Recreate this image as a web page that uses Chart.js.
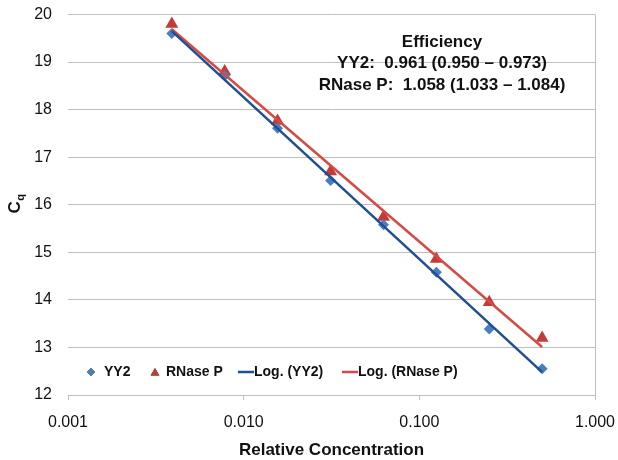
<!DOCTYPE html>
<html>
<head>
<meta charset="utf-8">
<script src="https://cdn.jsdelivr.net/npm/chart.js@4.4.1/dist/chart.umd.min.js"></script>
<style>
html,body{margin:0;padding:0;background:#fff;}
#wrap{width:618px;height:460px;}
</style>
</head>
<body>
<div id="wrap"><canvas id="c" width="618" height="460"></canvas></div>
<script>
// ---- data ----
const concentrations = [0.0039, 0.0078, 0.0156, 0.03125, 0.0625, 0.125, 0.25, 0.5];
const yy2Cq   = [19.60, 18.71, 17.61, 16.51, 15.58, 14.58, 13.39, 12.55];
const rnasePCq = [19.80, 18.80, 17.76, 16.70, 15.74, 14.86, 13.95, 13.20];
// trendline end points (log fits, as drawn)
const fitX = [0.0039, 0.5];
const yy2Fit = [19.65, 12.48];
const rnasePFit = [19.69, 13.01];
const xTickValues = [0.001, 0.01, 0.1, 1];
const xTickLabels = ['0.001', '0.010', '0.100', '1.000'];
const annotationLines = ['Efficiency', 'YY2:  0.961 (0.950 \u2013 0.973)', 'RNase P:  1.058 (1.033 \u2013 1.084)'];
const seriesNames = ['YY2', 'RNase P', 'Log. (YY2)', 'Log. (RNase P)'];

const FONT = "'Liberation Sans', Arial, sans-serif";
Chart.defaults.font.family = FONT;
Chart.defaults.color = '#111';

const pts = (xs, ys) => xs.map((x, i) => ({x: x, y: ys[i]}));

const yTitlePlugin = {
  id: 'yTitle',
  afterDraw(chart) {
    const ctx = chart.ctx;
    ctx.save();
    ctx.translate(20, 204);
    ctx.rotate(-Math.PI / 2);
    ctx.fillStyle = '#111';
    ctx.font = 'bold 17px ' + FONT;
    const wC = ctx.measureText('C').width;
    ctx.font = 'bold 11px ' + FONT;
    const wq = ctx.measureText('q').width;
    const start = -(wC + wq) / 2;
    ctx.textBaseline = 'alphabetic';
    ctx.textAlign = 'left';
    ctx.font = 'bold 17px ' + FONT;
    ctx.fillText('C', start, 0);
    ctx.font = 'bold 11px ' + FONT;
    ctx.fillText('q', start + wC + 0.5, 4);
    ctx.restore();
  }
};

const annotationPlugin = {
  id: 'effNote',
  afterDraw(chart) {
    const ctx = chart.ctx;
    ctx.save();
    ctx.fillStyle = '#111';
    ctx.font = 'bold 17px ' + FONT;
    ctx.textAlign = 'center';
    ctx.textBaseline = 'middle';
    const ys = [42, 63.5, 85];
    annotationLines.forEach((t, i) => ctx.fillText(t, 442, ys[i]));
    ctx.restore();
  }
};

const borderPlugin = {
  id: 'rightBorder',
  beforeDatasetsDraw(chart) {
    const a = chart.chartArea, ctx = chart.ctx;
    ctx.save();
    ctx.strokeStyle = '#BFBFBF';
    ctx.lineWidth = 1;
    ctx.beginPath();
    ctx.moveTo(Math.round(a.right) + 0.5, a.top);
    ctx.lineTo(Math.round(a.right) + 0.5, a.bottom);
    ctx.stroke();
    ctx.restore();
  }
};

const legendPlugin = {
  id: 'inLegend',
  afterDraw(chart) {
    const ctx = chart.ctx;
    const y = 372;
    const slots = [
      {sx: 91, tx: 104},
      {sx: 155, tx: 166},
      {sx: 238, tx: 254},
      {sx: 342, tx: 358}
    ];
    ctx.save();
    ctx.font = 'bold 14px ' + FONT;
    ctx.textBaseline = 'middle';
    ctx.textAlign = 'left';
    chart.data.datasets.forEach((ds, i) => {
      const s = slots[i];
      if (ds.showLine) {
        ctx.strokeStyle = ds.borderColor;
        ctx.lineWidth = 2.5;
        ctx.beginPath();
        ctx.moveTo(s.sx, y);
        ctx.lineTo(s.sx + 16, y);
        ctx.stroke();
      } else {
        Chart.helpers.drawPoint(ctx, {
          pointStyle: ds.pointStyle,
          radius: ds.pointStyle === 'triangle' ? 5 : 4,
          borderWidth: 0,
          rotation: 0
        }, s.sx, y + (ds.pointStyle === 'triangle' ? 1 : 0));
        ctx.fillStyle = ds.backgroundColor;
        ctx.fill();
      }
      ctx.fillStyle = '#111';
      ctx.fillText(ds.label, s.tx, y);
    });
    ctx.restore();
  }
};

new Chart(document.getElementById('c'), {
  type: 'scatter',
  data: {
    datasets: [
      {
        label: seriesNames[0],
        data: pts(concentrations, yy2Cq),
        pointStyle: 'rectRot',
        pointRadius: 5.5,
        backgroundColor: '#4A7EC2',
        borderColor: '#4A7EC2',
        borderWidth: 0,
        showLine: false,
        order: 3
      },
      {
        label: seriesNames[1],
        data: pts(concentrations, rnasePCq),
        pointStyle: 'triangle',
        pointRadius: 7.5,
        backgroundColor: '#C23B36',
        borderColor: '#C23B36',
        borderWidth: 0,
        showLine: false,
        order: 4
      },
      {
        label: seriesNames[2],
        data: pts(fitX, yy2Fit),
        showLine: true,
        pointRadius: 0,
        borderColor: '#1F4E93',
        backgroundColor: '#1F4E93',
        borderWidth: 2.5,
        order: 1
      },
      {
        label: seriesNames[3],
        data: pts(fitX, rnasePFit),
        showLine: true,
        pointRadius: 0,
        borderColor: '#D44A45',
        backgroundColor: '#D44A45',
        borderWidth: 2.5,
        order: 2
      }
    ]
  },
  options: {
    responsive: false,
    animation: false,
    layout: {padding: {top: 14.5, right: 23, left: 0, bottom: 0}},
    plugins: {
      legend: {display: false},
      tooltip: {enabled: false}
    },
    scales: {
      x: {
        type: 'logarithmic',
        min: 0.001,
        max: 1,
        afterBuildTicks(axis) { axis.ticks = xTickValues.map(v => ({value: v})); },
        afterFit(axis) { axis.height = 65; axis.paddingLeft = 0; axis.paddingRight = 0; },
        ticks: {
          font: {size: 16},
          padding: 13,
          maxRotation: 0,
          autoSkip: false,
          callback(value) {
            const i = xTickValues.findIndex(v => Math.abs(v - value) < 1e-9);
            return i >= 0 ? xTickLabels[i] : '';
          }
        },
        grid: {drawOnChartArea: false, drawTicks: true, tickLength: 5, color: '#BFBFBF', lineWidth: 1},
        border: {display: true, color: '#BFBFBF', width: 1},
        title: {display: true, text: 'Relative Concentration', font: {size: 17, weight: 'bold', lineHeight: 1}, padding: {top: 0, bottom: 1}, color: '#111'}
      },
      y: {
        min: 12,
        max: 20,
        afterFit(axis) { axis.width = 68; axis.paddingTop = 0; axis.paddingBottom = 0; },
        ticks: {stepSize: 1, font: {size: 16}, padding: 16},
        grid: {drawTicks: false, color: '#BFBFBF', lineWidth: 1},
        border: {display: false}
      }
    }
  },
  plugins: [yTitlePlugin, annotationPlugin, borderPlugin, legendPlugin]
});
</script>
</body>
</html>
